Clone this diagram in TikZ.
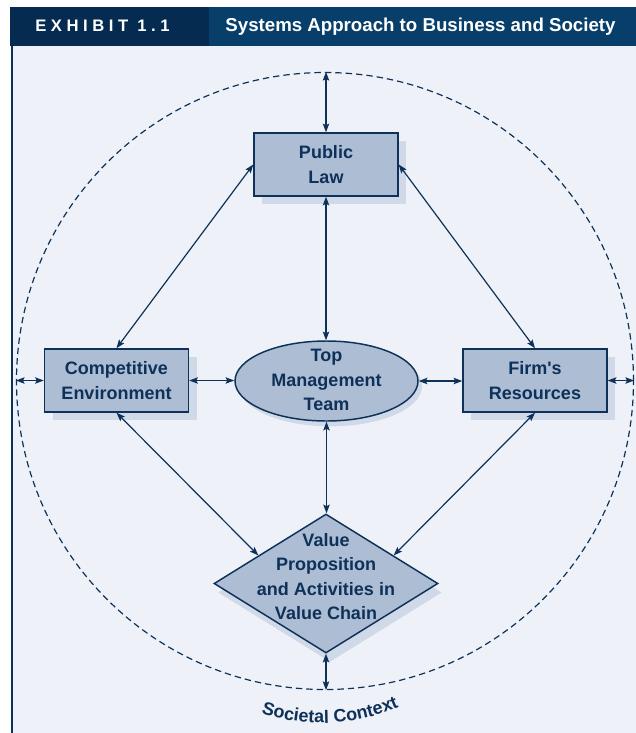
\documentclass[tikz,border=0pt]{standalone}
\usepackage{fontspec}
\setmainfont{Liberation Sans}
\usetikzlibrary{shapes.geometric,shadows,decorations.text,arrows.meta,calc}
\definecolor{navy}{RGB}{14,49,89}
\definecolor{hdark}{RGB}{5,43,81}
\definecolor{hlight}{RGB}{8,63,106}
\definecolor{panel}{RGB}{238,242,248}
\definecolor{boxfill}{RGB}{173,189,211}
\definecolor{shade}{RGB}{207,217,231}
\begin{document}
\begin{tikzpicture}[x=0.75pt,y=0.75pt,
  lbl/.style={font=\bfseries\fontsize{13.5}{18.4}\selectfont, text=navy, align=center, inner sep=0pt},
  boxnode/.style={rectangle, draw=navy, fill=boxfill, line width=1.1pt,
    minimum width=108pt, minimum height=47.25pt, inner sep=0pt, align=center,
    font=\bfseries\fontsize{13.5}{18.4}\selectfont, text=navy,
    general shadow={fill=shade, shadow xshift=6pt, shadow yshift=-6pt}},
  ellnode/.style={ellipse, draw=navy, fill=boxfill, line width=1.1pt,
    minimum width=137.25pt, minimum height=60pt, inner sep=0pt,
    general shadow={fill=shade, shadow xshift=3pt, shadow yshift=-4pt}},
  diamnode/.style={diamond, draw=navy, fill=boxfill, line width=1.1pt,
    minimum width=168pt, minimum height=104.25pt, inner sep=0pt,
    general shadow={fill=shade, shadow xshift=3pt, shadow yshift=-6.75pt}},
  ring/.style={circle, draw=navy, dash pattern=on 4.8pt off 3pt, line width=0.9pt,
    minimum size=462.75pt, inner sep=0pt},
  arr/.style={{Stealth[length=6.5pt,width=4.8pt,inset=1.2pt]}-{Stealth[length=6.5pt,width=4.8pt,inset=1.2pt]},
    draw=navy, line width=0.9pt},
  hdr/.style={text=white, font=\bfseries, inner sep=0pt, anchor=base}
]
\useasboundingbox (0,0) rectangle (636,-733);
% panel
\fill[panel] (11,-46) rectangle (636,-733);
\draw[navy, line width=1.5pt] (11.8,-46) -- (11.8,-733);
% header
\fill[hdark] (10,-7) rectangle (209,-46);
\fill[hlight] (209,-7) rectangle (636,-46);
\node[hdr, font=\bfseries\fontsize{12.5}{14}\selectfont] (ex) at (102.5,-31)
  {E\kern3.4pt X\kern3.4pt H\kern3.4pt I\kern3.4pt B\kern3.4pt I\kern3.4pt T\kern3.4pt\ 1\kern3.4pt.\kern3.4pt 1};
\node[hdr, font=\bfseries\fontsize{14}{16}\selectfont] (title) at (420.5,-31.5)
  {Systems Approach to Business and Society};
% outer societal ring
\node[ring] (sc) at (325,-381) {};
% nodes
\node[boxnode] (pl) at (326,-164.5) {Public\\Law};
\node[boxnode] (ce) at (116.5,-380.5) {Competitive\\Environment};
\node[boxnode] (fr) at (535,-380.5) {Firm\textquotesingle s\\Resources};
\node[ellnode] (tm) at (326.5,-381) {};
\node[lbl] (tmt) at (326.5,-380) {Top\\Management\\Team};
\node[diamnode] (vp) at (326,-583.5) {};
\node[lbl] (vpt) at (326,-576.5) {Value\\Proposition\\and Activities in\\Value Chain};
% connectors
\draw[arr] (pl.north) -- (pl.north |- sc.north);
\draw[arr] (pl.south) -- (pl.south |- tm.north);
\draw[arr] (pl.west) -- (ce.north);
\draw[arr] (pl.east) -- (fr.north);
\draw[arr] (ce.east) -- (ce.east -| tm.west);
\draw[arr] (tm.east) -- (tm.east -| fr.west);
\draw[arr] (tm.south) -- (tm.south |- vp.north);
\draw[arr] (ce.south) -- ($(vp.west)!0.4!(vp.north)$);
\draw[arr] (fr.south) -- ($(vp.east)!0.4!(vp.north)$);
\draw[arr] (vp.south) -- (vp.south |- sc.south);
\draw[arr] (ce.west) -- (ce.west -| sc.west);
\draw[arr] (fr.east) -- (fr.east -| sc.east);
% curved label
\path[decorate, decoration={text along path, text align=center,
  text={|\color{navy}\bfseries\fontsize{13.5}{16}\selectfont|Societal Context}}]
  (322,-528) ++(240:195) arc[start angle=240, end angle=305, radius=195];
\end{tikzpicture}
\end{document}
